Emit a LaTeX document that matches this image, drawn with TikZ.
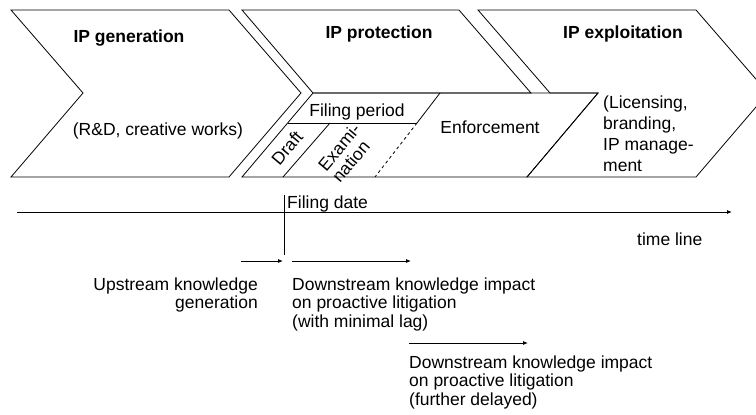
\documentclass[tikz,border=0pt]{standalone}
\usepackage{fontspec}
\setmainfont{Liberation Sans}
\usetikzlibrary{arrows.meta}
\begin{document}
\begin{tikzpicture}[x=1pt,y=-1pt,
  shapeline/.style={draw=black, line width=0.8pt, line join=miter},
  lbl/.style={inner sep=0pt, font=\fontsize{17.5}{18.5}\selectfont},
  ttl/.style={inner sep=0pt, font=\fontsize{17.5}{18.5}\selectfont\bfseries},
  arr/.style={draw=black, line width=0.8pt, -{Latex[length=5pt,width=4pt]}}]
\useasboundingbox (0,0) rectangle (756,415);
\clip (0,0) rectangle (756,415);
% chevrons
\draw[shapeline] (11,10) -- (229,10) -- (301,93) -- (229,177) -- (11,177) -- (83,93) -- cycle;
\draw[shapeline] (242,10) -- (459,10) -- (531,93) -- (313,93) -- cycle;
\draw[shapeline] (313,93) -- (598,93) -- (527,177) -- (242,177) -- cycle;
\draw[shapeline] (478,10) -- (696,10) -- (768,93) -- (696,177) -- (527,177) -- (598,93) -- (550,93) -- cycle;
% inner divisions of the protection band
\draw[shapeline] (288,123) -- (417,123);
\draw[shapeline] (440,93) -- (417,123);
\draw[shapeline, dashed] (417,123) -- (375,177);
\draw[shapeline] (330,123) -- (283,177);
% titles
\node[ttl, anchor=base] (gen) at (129,42.5) {IP generation};
\node[ttl, anchor=base] (prot) at (379,38.7) {IP protection};
\node[ttl, anchor=base] (expl) at (623,38.7) {IP exploitation};
% contents
\node[lbl, anchor=base] (rd) at (158,135.7) {(R\&D, creative works)};
\node[lbl, anchor=base] (fp) at (357,116) {Filing period};
\node[lbl, anchor=base] (enf) at (490,133) {Enforcement};
\node[lbl, anchor=base west, align=left, font=\fontsize{17.5}{20.8}\selectfont] (lic) at (603,171.1) {(Licensing,\\branding,\\IP manage-\\ment};
\node[lbl, rotate=50] (draft) at (287,148) {Draft};
\node[lbl, rotate=50, align=left, font=\fontsize{17.5}{18}\selectfont] (exam) at (346,153) {Exami-\\nation};
% time line
\coordinate (tl1) at (17,212);
\coordinate (tl2) at (732,212);
\draw[arr] (tl1) -- (tl2);
\node[lbl, anchor=base west] (tlt) at (637,245) {time line};
\coordinate (fd1) at (284,195);
\coordinate (fd2) at (284,255);
\draw[shapeline] (fd1) -- (fd2);
\node[lbl, anchor=base west] (fdt) at (287,208) {Filing date};
% knowledge arrows
\coordinate (u1) at (241,261);
\coordinate (u2) at (283,261);
\coordinate (da1) at (292,261);
\coordinate (da2) at (411,261);
\coordinate (db1) at (409,343);
\coordinate (db2) at (528,343);
\draw[arr] (u1) -- (u2);
\draw[arr] (da1) -- (da2);
\draw[arr] (db1) -- (db2);
\node[lbl, anchor=base east, align=right] (up) at (258,308.5) {Upstream knowledge\\generation};
\node[lbl, anchor=base west, align=left] (dn1) at (292,327) {Downstream knowledge impact\\on proactive litigation\\(with minimal lag)};
\node[lbl, anchor=base west, align=left] (dn2) at (409,405) {Downstream knowledge impact\\on proactive litigation\\(further delayed)};
\end{tikzpicture}
\end{document}
